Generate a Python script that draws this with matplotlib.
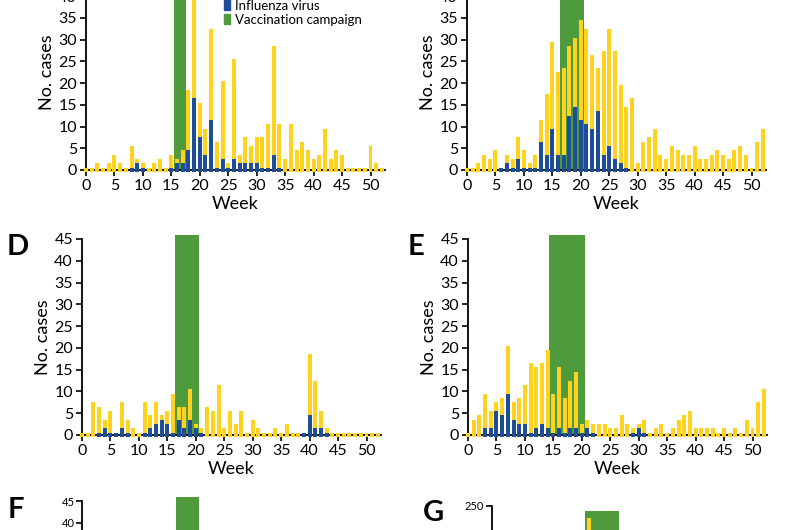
import matplotlib
matplotlib.use("Agg")
import matplotlib.pyplot as plt
from matplotlib.patches import Patch
import numpy as np

plt.rcParams['font.family'] = ['Lato', 'DejaVu Sans']

n = np.nan
weeks = np.arange(53)

# total cases per week (yellow) and influenza positive (blue), nan = no blue mark
b_total = [0, 0, 1, 0, 1, 3, 1, 0, 5, 2, 1, 0, 1, 2, 0, 3, 2, 4, 18, 44,
           15, 9, 32, 6, 20, 1, 25, 3, 7, 5, 7, 7, 10, 28, 10, 2, 10, 4, 6, 4,
           2, 3, 9, 2, 4, 3, 0, 0, 0, 0, 5, 1, 0]
b_flu = [n, n, n, n, n, n, n, n, 0, 1, 0, n, n, n, n, 0, 1, 1, 4, 16,
         7, 3, 11, 0, 2, 0, 2, 1, 1, 1, 1, 0, 0, 3, 0, n, n, n, n, n,
         n, n, n, n, n, n, n, n, n, n, n, n, n]

c_total = [0, 0, 1, 3, 2, 4, 0, 3, 2, 7, 4, 1, 3, 11, 17, 29, 22, 23, 28, 30,
           34, 32, 26, 23, 27, 32, 27, 19, 14, 16, 1, 6, 7, 9, 3, 2, 5, 4, 3, 3,
           5, 2, 2, 3, 4, 3, 2, 4, 5, 3, 0, 6, 9]
c_flu = [n, n, n, n, n, n, 0, 1, 0, 2, 0, 0, 0, 6, 3, 9, 3, 3, 12, 14,
         11, 10, 9, 13, 3, 5, 2, 1, 0, n, n, n, n, n, n, n, n, n, n, n,
         n, n, n, n, n, n, n, n, n, n, n, n, n]

d_total = [0, 0, 7, 6, 3, 5, 0, 7, 3, 1, 0, 7, 4, 7, 4, 5, 9, 6, 6, 10,
           2, 1, 6, 5, 11, 1, 5, 2, 5, 0, 3, 1, 0, 0, 1, 0, 2, 0, 0, 0,
           18, 12, 5, 1, 0, 0, 0, 0, 0, 0, 0, 0, 0]
d_flu = [n, n, n, 0, 1, 0, 0, 1, 0, n, n, 0, 1, 2, 3, 2, 0, 3, 1, 3,
         1, 0, n, n, n, n, n, n, n, n, n, n, n, n, n, n, n, n, n, 0,
         4, 1, 1, 0, n, n, n, n, n, n, n, n, n]

e_total = [0, 3, 4, 9, 5, 7, 8, 20, 7, 8, 11, 16, 15, 16, 19, 9, 15, 8, 12, 14,
           2, 3, 2, 2, 2, 1, 1, 4, 2, 1, 2, 3, 0, 1, 2, 0, 1, 3, 4, 5,
           1, 1, 1, 1, 0, 1, 0, 1, 0, 3, 1, 7, 10]
e_flu = [n, n, n, 1, 1, 5, 4, 9, 3, 2, 2, 0, 1, 2, 1, 0, 1, 0, 1, 1,
         0, 1, 0, n, n, n, n, n, n, 0, 1, 0, n, n, n, n, n, n, n, n,
         n, n, n, n, n, n, n, n, n, n, n, n, n]

# panels F and G are mostly below the crop, only the tallest bar shows
f_total = [0] * 53
f_flu = [n] * 53
g_total = [0] * 17 + [232] + [0] * 35
g_flu = [n] * 53

# vaccination campaign (start week, end week, top of band)
campaigns = {"B": (15.4, 17.6, 46), "C": (16.3, 20.6, 46), "D": (16.3, 20.6, 46),
             "E": (14.3, 20.5, 46), "F": (16.5, 20.6, 46), "G": (16.3, 22.4, 244)}

YELLOW = '#FFD21F'
BLUE = '#1D4E97'
GREEN = '#4F9A3D'

W, H = 800, 530
fig = plt.figure(figsize=(8, 5.3), dpi=100)


def add_panel(letter, total, flu, left, zero_y, top_y, ymax, ystep, letter_xy):
    right = left + 52.5 * 5.69
    ax = fig.add_axes([left / W, 1 - zero_y / H, (right - left) / W, (zero_y - top_y) / H])
    ax.set_xlim(0, 52.5)
    ax.set_ylim(0, ymax)
    s, e, top = campaigns[letter]
    ax.bar((s + e) / 2, top, width=e - s, color=GREEN, zorder=1, clip_on=False)
    stub = ymax / 90.0
    tot = np.array(total, dtype=float)
    ax.bar(weeks, tot + 2 * stub, bottom=-stub, width=0.7, color=YELLOW,
           zorder=3, clip_on=False)
    fl = np.array(flu, dtype=float)
    ok = ~np.isnan(fl)
    ax.bar(weeks[ok], fl[ok] + 2 * stub, bottom=-stub, width=0.7, color=BLUE,
           zorder=4, clip_on=False)
    for sp in ['top', 'right']:
        ax.spines[sp].set_visible(False)
    for sp in ['left', 'bottom']:
        ax.spines[sp].set_linewidth(1.3)
        ax.spines[sp].set_zorder(2)
    ax.set_xticks(np.arange(0, 51, 5))
    ax.set_yticks(np.arange(0, ymax + 1, ystep))
    ax.tick_params(length=4, width=1.2, labelsize=11.5, pad=2.5)
    ax.set_xlabel('Week', fontsize=13, labelpad=2)
    ax.set_ylabel('No. cases', fontsize=13, labelpad=2)
    fig.text(letter_xy[0] / W, 1 - letter_xy[1] / H, letter, fontsize=21,
             fontweight='bold', ha='center', va='center')
    return ax


ax_b = add_panel("B", b_total, b_flu, 86, 170, 170 - 45 * 4.343, 45, 5, (17, -11))
ax_c = add_panel("C", c_total, c_flu, 467, 170, 170 - 45 * 4.343, 45, 5, (414, -11))
ax_d = add_panel("D", d_total, d_flu, 82, 435, 239, 45, 5, (18, 247))
ax_e = add_panel("E", e_total, e_flu, 468, 435, 239, 45, 5, (416, 247))
ax_f = add_panel("F", f_total, f_flu, 82, 697, 501, 45, 5, (16, 510))
ax_g = add_panel("G", g_total, g_flu, 492, 702, 506, 250, 50, (434, 513))
for ax in (ax_f, ax_g):
    ax.tick_params(labelsize=8, pad=1.5)

handles = [Patch(color=BLUE, label='Influenza virus'),
           Patch(color=GREEN, label='Vaccination campaign')]
fig.legend(handles=handles, loc='lower left', bbox_to_anchor=(224 / W, 1 - 26 / H),
           frameon=False, fontsize=9.5, handlelength=0.45, handleheight=0.8,
           handletextpad=0.4, labelspacing=0.15, borderpad=0, borderaxespad=0)

fig.savefig('out.png', dpi=100)
